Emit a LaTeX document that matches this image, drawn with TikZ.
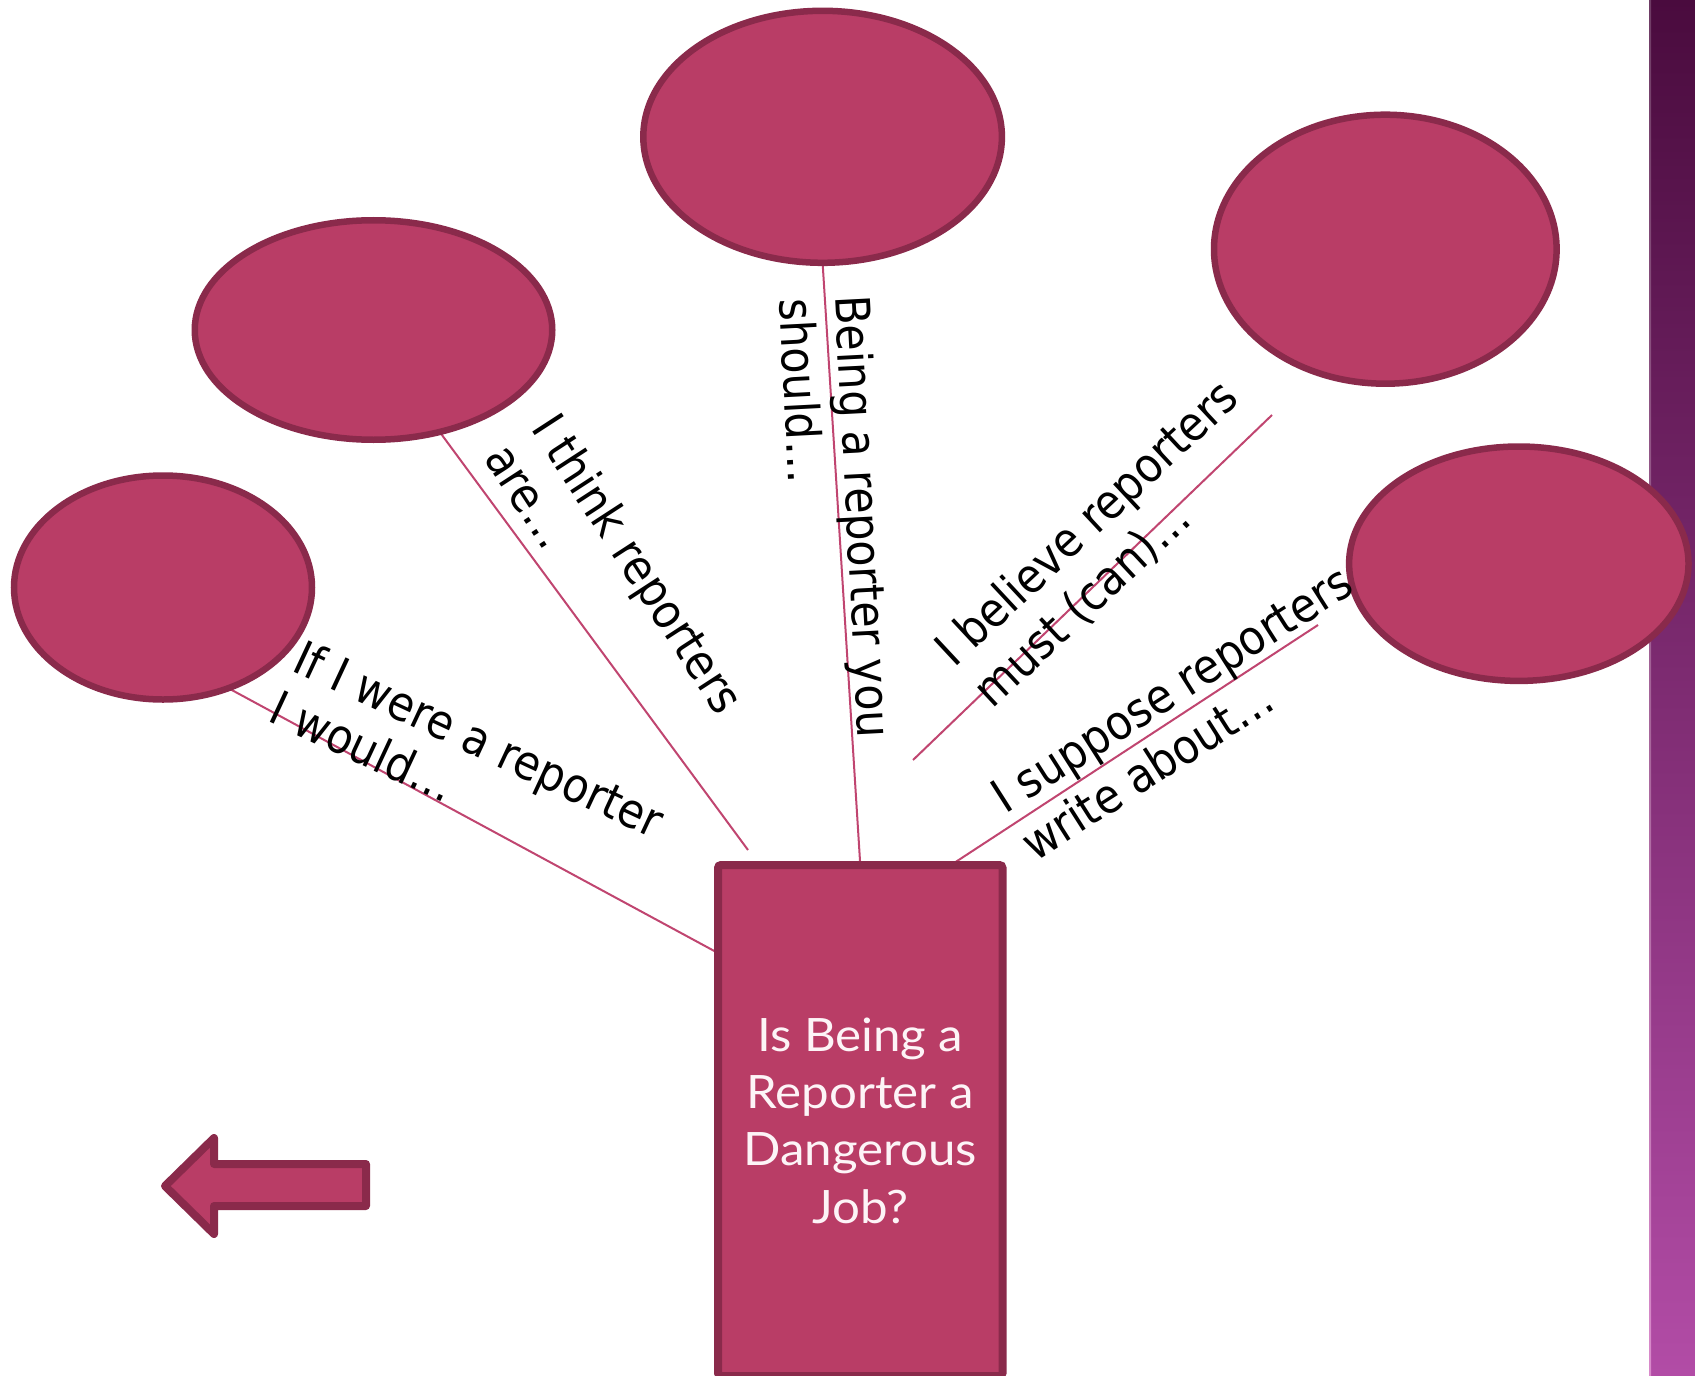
\documentclass[tikz,border=0pt]{standalone}
\usepackage{fontspec}
\usetikzlibrary{shapes.geometric,backgrounds}
\newfontfamily\lblfont[FakeStretch=0.9]{DejaVu Sans}
\newfontfamily\boxfont[FakeStretch=1.07]{Lato}
\definecolor{bubblefill}{HTML}{B93D66}
\definecolor{bubbleline}{HTML}{8A2A4B}
\definecolor{connline}{HTML}{C04570}
\definecolor{striptop}{HTML}{4A0B3E}
\definecolor{stripmid}{HTML}{8C3A80}
\definecolor{stripbot}{HTML}{B24CA6}
\definecolor{stripedge}{HTML}{D98ACB}
\definecolor{boxtext}{HTML}{FDF4F7}
\begin{document}
\begin{tikzpicture}[x=0.5pt,y=-0.5pt,
  bubble/.style={ellipse, draw=bubbleline, fill=bubblefill, line width=3.25pt, inner sep=0pt, outer sep=0pt},
  conn/.style={draw=connline, line width=1pt},
  lbl/.style={font=\lblfont\fontsize{23.8}{28}\selectfont, text=black, inner sep=0pt, anchor=base west},
  qbox/.style={rectangle, draw=bubbleline, fill=bubblefill, line width=4pt, rounded corners=1.5pt,
    inner sep=0pt, outer sep=0pt, align=center, text=boxtext,
    font=\boxfont\fontsize{23}{28.65}\selectfont},
  arrowshape/.style={draw=bubbleline, fill=bubblefill, line width=4pt, line join=round}
]
\useasboundingbox (0,0) rectangle (1695,1375);

% bubbles
\node[bubble, minimum width=149pt, minimum height=112pt] (e1) at (163,587.5) {};
\node[bubble, minimum width=178.75pt, minimum height=109.75pt] (e2) at (373.5,330) {};
\node[bubble, minimum width=179.3pt, minimum height=126pt] (e3) at (822.6,136.8) {};
\node[bubble, minimum width=171.3pt, minimum height=134.5pt] (e4) at (1385.3,249.2) {};
\node[bubble, minimum width=169.7pt, minimum height=117.2pt] (e5) at (1518.8,563.7) {};

% central box
\node[qbox, minimum width=142.25pt, minimum height=255.5pt] (box) at (860.25,1120.5)
  {Is Being a\\Reporter a\\Dangerous\\Job?};

% free connector ends
\coordinate (c1) at (718,953);
\coordinate (c2) at (748,850);
\coordinate (c4a) at (1272,415);
\coordinate (c4b) at (913,760);
\coordinate (c5a) at (1318,625);
\coordinate (c5b) at (951,865);

\begin{pgfonlayer}{background}
  \shade[top color=striptop, middle color=stripmid, bottom color=stripbot] (1649,0) rectangle (1695,1375);
  \shade[top color=striptop!80!white, bottom color=stripedge] (1649,0) rectangle (1651,1375);
  \draw[conn] (e1.-57) -- (c1);
  \draw[conn] (e2.-57.6) -- (c2);
  \draw[conn] (e3.south) -- (box.north);
  \draw[conn] (c4a) -- (c4b);
  \draw[conn] (c5a) -- (c5b);
\end{pgfonlayer}

% back arrow
\draw[arrowshape] (165,1186) -- (214,1138) -- (214,1164) -- (366,1164) -- (366,1206)
  -- (214,1206) -- (214,1234) -- cycle;

% labels
\begin{scope}[shift={(290,670)}, rotate=-25, transform shape]
  \node[lbl] (t1a) at (0,0) {If I were a reporter};
  \node[lbl] (t1b) at (0,56) {I would…};
\end{scope}
\begin{scope}[shift={(530,428)}, rotate=-57, transform shape]
  \node[lbl] (t2a) at (0,0) {I think reporters};
  \node[lbl] (t2b) at (0,56) {are…};
\end{scope}
\begin{scope}[shift={(835,296)}, rotate=-87, transform shape]
  \node[lbl] (t3a) at (0,0) {Being a reporter you};
  \node[lbl] (t3b) at (0,56) {should…};
\end{scope}
\begin{scope}[shift={(954,669)}, rotate=43, transform shape]
  \node[lbl] (t4a) at (0,0) {I believe reporters};
  \node[lbl] (t4b) at (0,56) {must (can)…};
\end{scope}
\begin{scope}[shift={(1005,815)}, rotate=32.5, transform shape]
  \node[lbl] (t5a) at (0,0) {I suppose reporters};
  \node[lbl] (t5b) at (0,56) {write about…};
\end{scope}
\end{tikzpicture}
\end{document}
